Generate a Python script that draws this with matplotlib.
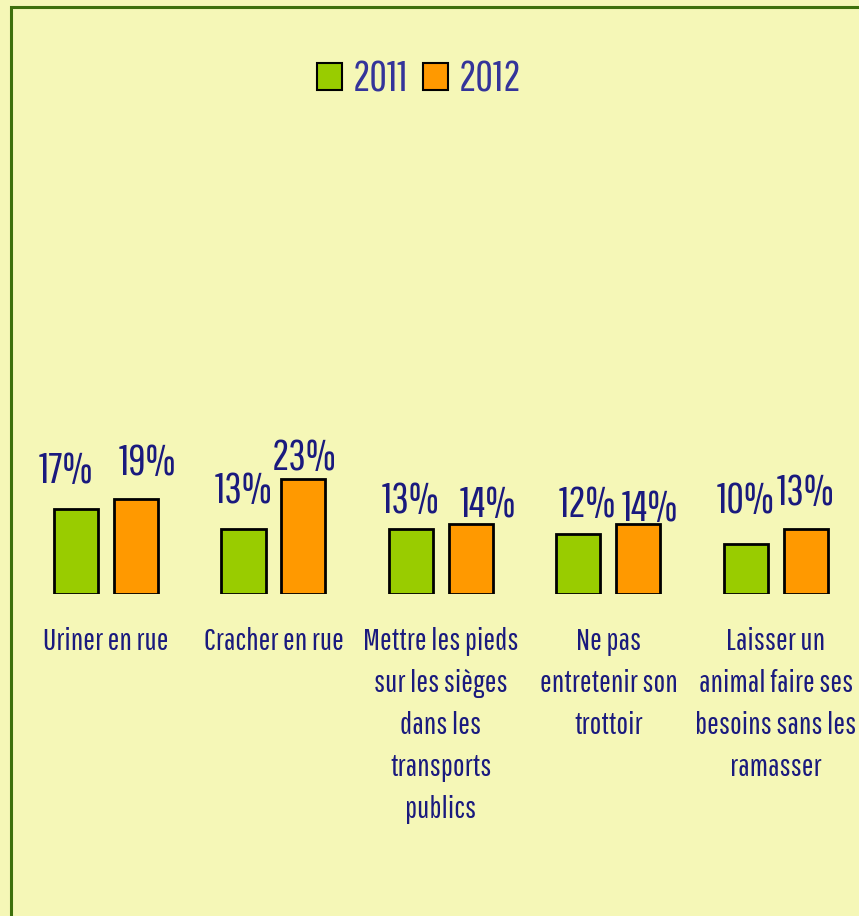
import matplotlib.pyplot as plt
from matplotlib.patches import Patch, Rectangle

# comportements incivils, part des répondants (%)
categories = [
    "Uriner en rue",
    "Cracher en rue",
    "Mettre les pieds\nsur les sièges\ndans les\ntransports\npublics",
    "Ne pas\nentretenir son\ntrottoir",
    "Laisser un\nanimal faire ses\nbesoins sans les\nramasser",
]
v2011 = [17, 13, 13, 12, 10]
v2012 = [19, 23, 14, 14, 13]
years = ["2011", "2012"]

plt.rcParams['font.family'] = ['Pathway Gothic One', 'DejaVu Sans']

bg = '#F5F7B7'
green = '#99CC00'
orange = '#FF9900'
navy = '#1A1A7E'

fig = plt.figure(figsize=(8.59, 9.16), dpi=100, facecolor=bg)
ax = fig.add_axes([0, 0.3515, 1, 0.6485])
ax.set_facecolor('none')

x = list(range(len(categories)))
w = 0.263
off = 0.179
b1 = ax.bar([i - off for i in x], v2011, w, color=green, edgecolor='black', linewidth=2)
b2 = ax.bar([i + off for i in x], v2012, w, color=orange, edgecolor='black', linewidth=2)

# étiquettes placées à la main au-dessus des barres (décalages en points)
lab1 = [(-7.5, 18.7), (0, 18.7), (0, 11.5), (6.5, 12.2), (0, 22.3)]
lab2 = [(8, 17.3), (0.7, 6.5), (12.2, 5), (8, 2.2), (0, 17.3)]
for bars, vals, offs in ((b1, v2011, lab1), (b2, v2012, lab2)):
    for r, v, o in zip(bars, vals, offs):
        ax.annotate(f"{v}%", (r.get_x() + r.get_width() / 2, v),
                    xytext=o, textcoords='offset points', ha='center', va='baseline',
                    fontsize=31, color=navy)

ax.set_xlim(-0.633, 4.496)
ax.set_ylim(0, 118.8)
ax.set_xticks(x)
ax.set_xticklabels(categories, fontsize=22.5, color=navy, linespacing=1.56, va='top')
ax.tick_params(axis='x', length=0, pad=24)
ax.set_yticks([])
for s in ax.spines.values():
    s.set_visible(False)

handles = [Patch(facecolor=green, edgecolor='black', linewidth=1.5),
           Patch(facecolor=orange, edgecolor='black', linewidth=1.5)]
fig.legend(handles, years, loc='center', bbox_to_anchor=(0.488, 0.913), ncol=2,
           frameon=False, fontsize=31, labelcolor='#34349A',
           handlelength=0.58, handleheight=0.58, handletextpad=0.25, columnspacing=0.35)

fig.add_artist(Rectangle((11 / 859, -0.05), 1.1, 1 - 7 / 916 + 0.05, transform=fig.transFigure,
                         fill=False, edgecolor='#3D700C', linewidth=2.2))

fig.savefig('out.png', dpi=100, facecolor=bg)
